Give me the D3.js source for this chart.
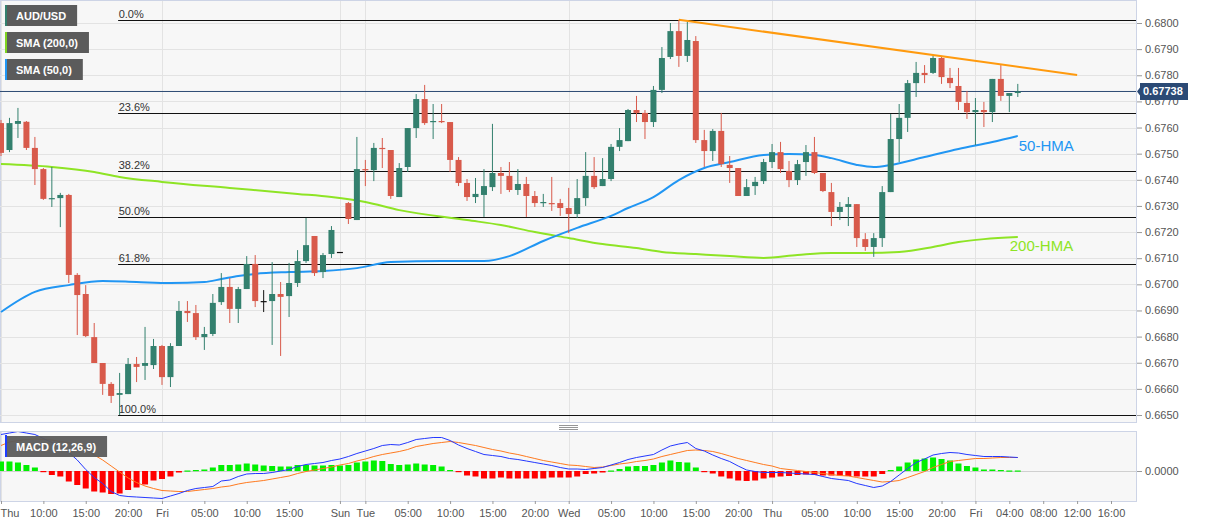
<!DOCTYPE html>
<html><head><meta charset="utf-8">
<script src="https://cdn.jsdelivr.net/npm/d3@7"></script>
<style>
html,body{margin:0;padding:0;background:#fff;}
svg{display:block;font-family:"Liberation Sans",Arial,sans-serif;}
</style></head><body>
<svg id="chart" width="1207" height="526"></svg>
<script>
// ---------------- DATA ----------------
const open = [0.67617,0.67514,0.67614,0.67622,0.67522,0.67441,0.67327,0.67330,0.67342,0.67036,
0.66963,0.66798,0.66699,0.66619,0.66577,0.66580,0.66695,0.66688,0.66691,0.66764,
0.66645,0.66764,0.66898,0.66890,0.66798,0.66810,0.66932,0.66990,0.66906,0.66982,
0.67078,0.66936,0.66936,0.66963,0.66955,0.67005,0.67089,0.67185,0.67047,0.67116,
0.67124,0.67311,0.67246,0.67441,0.67437,0.67522,0.67514,0.67334,0.67449,0.67598,
0.67709,0.67621,0.67625,0.67621,0.67476,0.67388,0.67334,0.67342,0.67372,0.67426,
0.67415,0.67361,0.67384,0.67338,0.67311,0.67311,0.67311,0.67292,0.67269,0.67330,
0.67415,0.67376,0.67403,0.67526,0.67548,0.67667,0.67656,0.67621,0.67744,0.67870,
0.67969,0.67874,0.67931,0.67552,0.67510,0.67587,0.67457,0.67445,0.67338,0.67376,
0.67395,0.67468,0.67506,0.67434,0.67399,0.67468,0.67506,0.67426,0.67353,0.67277,
0.67296,0.67307,0.67173,0.67143,0.67177,0.67353,0.67556,0.67637,0.67770,0.67809,
0.67809,0.67866,0.67790,0.67759,0.67694,0.67659,0.67667,0.67659,0.67786,0.67721,
0.67732];
const high = [0.67629,0.67637,0.67675,0.67625,0.67564,0.67445,0.67449,0.67350,0.67346,0.67043,
0.66997,0.66852,0.66699,0.66626,0.66661,0.66718,0.66722,0.66837,0.66791,0.66768,
0.66775,0.66936,0.66936,0.66921,0.66837,0.66963,0.67043,0.67024,0.66990,0.67108,
0.67112,0.66978,0.67085,0.67009,0.67082,0.67131,0.67254,0.67185,0.67120,0.67223,
0.67124,0.67315,0.67564,0.67476,0.67541,0.67560,0.67514,0.67464,0.67598,0.67728,
0.67763,0.67690,0.67690,0.67621,0.67487,0.67403,0.67407,0.67441,0.67614,0.67449,
0.67468,0.67441,0.67411,0.67357,0.67346,0.67411,0.67327,0.67369,0.67403,0.67506,
0.67487,0.67483,0.67537,0.67598,0.67671,0.67721,0.67667,0.67759,0.67908,0.68000,
0.68012,0.68004,0.67950,0.67591,0.67594,0.67656,0.67491,0.67445,0.67403,0.67411,
0.67480,0.67537,0.67545,0.67472,0.67476,0.67533,0.67564,0.67426,0.67388,0.67315,
0.67334,0.67307,0.67196,0.67196,0.67376,0.67652,0.67690,0.67782,0.67851,0.67839,
0.67874,0.67874,0.67828,0.67828,0.67740,0.67713,0.67698,0.67786,0.67839,0.67732,
0.67767];
const low = [0.67491,0.67506,0.67560,0.67514,0.67380,0.67323,0.67296,0.67219,0.67005,0.66806,
0.66798,0.66699,0.66577,0.66546,0.66500,0.66580,0.66626,0.66634,0.66676,0.66615,
0.66607,0.66764,0.66856,0.66787,0.66749,0.66802,0.66921,0.66852,0.66852,0.66982,
0.66913,0.66894,0.66768,0.66726,0.66875,0.66990,0.67082,0.67032,0.67024,0.67101,
0.67124,0.67231,0.67246,0.67376,0.67395,0.67445,0.67327,0.67334,0.67430,0.67560,
0.67610,0.67556,0.67617,0.67430,0.67376,0.67319,0.67311,0.67258,0.67357,0.67346,
0.67353,0.67342,0.67258,0.67296,0.67296,0.67281,0.67262,0.67196,0.67254,0.67300,
0.67365,0.67376,0.67395,0.67510,0.67548,0.67621,0.67556,0.67602,0.67732,0.67862,
0.67832,0.67851,0.67541,0.67449,0.67472,0.67449,0.67388,0.67338,0.67338,0.67342,
0.67384,0.67445,0.67426,0.67372,0.67380,0.67415,0.67422,0.67353,0.67223,0.67246,
0.67223,0.67143,0.67128,0.67105,0.67143,0.67353,0.67468,0.67583,0.67717,0.67770,
0.67805,0.67767,0.67751,0.67667,0.67633,0.67533,0.67602,0.67621,0.67702,0.67659,
0.67717];
const close = [0.67503,0.67617,0.67625,0.67522,0.67441,0.67327,0.67330,0.67342,0.67036,0.66959,
0.66802,0.66699,0.66619,0.66573,0.66584,0.66695,0.66684,0.66699,0.66764,0.66645,
0.66764,0.66898,0.66890,0.66798,0.66810,0.66929,0.66990,0.66906,0.66982,0.67078,
0.66936,0.66936,0.66963,0.66952,0.67005,0.67089,0.67150,0.67043,0.67112,0.67208,
0.67124,0.67250,0.67441,0.67437,0.67522,0.67518,0.67338,0.67445,0.67598,0.67709,
0.67617,0.67625,0.67621,0.67476,0.67388,0.67334,0.67346,0.67376,0.67426,0.67415,
0.67361,0.67384,0.67338,0.67311,0.67315,0.67307,0.67292,0.67269,0.67330,0.67415,
0.67372,0.67403,0.67526,0.67552,0.67667,0.67656,0.67621,0.67744,0.67866,0.67969,
0.67874,0.67935,0.67552,0.67510,0.67587,0.67460,0.67445,0.67338,0.67372,0.67392,
0.67468,0.67506,0.67441,0.67399,0.67460,0.67506,0.67426,0.67357,0.67277,0.67296,
0.67307,0.67177,0.67143,0.67177,0.67353,0.67556,0.67637,0.67770,0.67809,0.67801,
0.67866,0.67793,0.67770,0.67698,0.67659,0.67667,0.67659,0.67786,0.67721,0.67732,
0.67738];

const hma50Idx = [0,4,8,12,16,20,24,26,28,30,34,38,42,46,52,57,60,64,68,72,74,77,80,83,86,90,93,96,98,101,103,105,109,113,117,120];
const hma50 = [0.66894,0.66971,0.66997,0.67013,0.67009,0.67005,0.67009,0.67020,0.67032,0.67040,
0.67047,0.67051,0.67062,0.67085,0.67089,0.67089,0.67108,0.67166,0.67216,0.67262,
0.67292,0.67334,0.67399,0.67445,0.67468,0.67495,0.67499,0.67495,0.67483,0.67457,
0.67449,0.67457,0.67487,0.67518,0.67545,0.67568];
const hma200Idx = [0,6,11,14,19,27,35,39,43,47,55,59,63,67,71,75,78,82,86,90,94,98,102,106,110,113,116,120];
const hma200 = [0.67460,0.67449,0.67430,0.67411,0.67392,0.67369,0.67346,0.67334,0.67315,0.67284,
0.67246,0.67227,0.67200,0.67177,0.67154,0.67139,0.67124,0.67116,0.67108,0.67101,
0.67112,0.67120,0.67120,0.67124,0.67143,0.67162,0.67173,0.67181];

const trendIdx = [80, 127];
const trendVal = [0.68012, 0.67801];

const fibHigh = 0.68012, fibLow = 0.66500, fibStartIdx = 14;
const fibLevels = [0, 0.236, 0.382, 0.5, 0.618, 1.0];
const fibLabels = ["0.0%","23.6%","38.2%","50.0%","61.8%","100.0%"];

const lastPrice = 0.67738;

const macd = [0.00073,0.00076,0.00079,0.00076,0.00073,0.00065,0.00057,0.00047,0.00037,0.00022,
0.00003,-0.00013,-0.00025,-0.00041,-0.00049,-0.00051,-0.00052,-0.00053,-0.00054,-0.00055,
-0.00050,-0.00045,-0.00039,-0.00035,-0.00033,-0.00031,-0.00020,-0.00018,-0.00011,-0.00006,
-0.00005,-0.00005,-0.00003,0.00000,0.00003,0.00009,0.00013,0.00015,0.00017,0.00021,
0.00024,0.00029,0.00035,0.00040,0.00045,0.00051,0.00053,0.00052,0.00057,0.00063,
0.00065,0.00067,0.00067,0.00061,0.00052,0.00045,0.00039,0.00033,0.00031,0.00029,
0.00025,0.00023,0.00020,0.00017,0.00014,0.00011,0.00007,0.00004,0.00004,0.00003,
0.00005,0.00007,0.00012,0.00017,0.00023,0.00027,0.00030,0.00033,0.00042,0.00050,
0.00054,0.00057,0.00045,0.00040,0.00032,0.00025,0.00019,0.00010,0.00002,-0.00001,
-0.00003,-0.00003,-0.00003,-0.00004,-0.00005,-0.00006,-0.00007,-0.00011,-0.00015,-0.00017,
-0.00019,-0.00025,-0.00029,-0.00033,-0.00030,-0.00021,-0.00008,0.00005,0.00017,0.00024,
0.00032,0.00035,0.00037,0.00036,0.00033,0.00031,0.00029,0.00029,0.00029,0.00028,
0.00027];
const signal = [0.00051,0.00058,0.00061,0.00063,0.00064,0.00063,0.00062,0.00059,0.00057,0.00051,
0.00043,0.00032,0.00022,0.00010,-0.00002,-0.00014,-0.00023,-0.00030,-0.00035,-0.00039,
-0.00040,-0.00041,-0.00041,-0.00039,-0.00037,-0.00035,-0.00032,-0.00030,-0.00026,-0.00023,
-0.00021,-0.00019,-0.00016,-0.00013,-0.00010,-0.00005,-0.00001,0.00002,0.00005,0.00008,
0.00012,0.00015,0.00020,0.00024,0.00029,0.00033,0.00036,0.00039,0.00043,0.00049,
0.00052,0.00055,0.00057,0.00059,0.00057,0.00054,0.00051,0.00047,0.00043,0.00040,
0.00036,0.00033,0.00029,0.00025,0.00021,0.00018,0.00015,0.00012,0.00011,0.00009,
0.00007,0.00008,0.00011,0.00014,0.00016,0.00019,0.00021,0.00024,0.00029,0.00033,
0.00037,0.00041,0.00042,0.00041,0.00039,0.00035,0.00030,0.00025,0.00021,0.00017,
0.00013,0.00010,0.00005,0.00003,0.00001,-0.00001,-0.00003,-0.00005,-0.00007,-0.00009,
-0.00010,-0.00013,-0.00016,-0.00019,-0.00022,-0.00021,-0.00019,-0.00013,-0.00007,-0.00001,
0.00007,0.00013,0.00019,0.00021,0.00023,0.00025,0.00025,0.00026,0.00027,0.00027,
0.00027];
const hist = [0.00019,0.00019,0.00017,0.00012,0.00007,-0.00002,-0.00008,-0.00011,-0.00021,-0.00028,
-0.00035,-0.00041,-0.00043,-0.00046,-0.00045,-0.00038,-0.00033,-0.00027,-0.00019,-0.00016,
-0.00011,-0.00003,0.00001,0.00002,0.00003,0.00007,0.00012,0.00012,0.00013,0.00015,
0.00013,0.00011,0.00010,0.00009,0.00009,0.00012,0.00012,0.00011,0.00011,0.00012,
0.00011,0.00012,0.00017,0.00019,0.00021,0.00020,0.00014,0.00012,0.00013,0.00015,
0.00013,0.00012,0.00009,0.00002,-0.00001,-0.00009,-0.00011,-0.00015,-0.00015,-0.00013,
-0.00015,-0.00015,-0.00015,-0.00015,-0.00015,-0.00013,-0.00013,-0.00013,-0.00011,-0.00006,
-0.00005,-0.00003,0.00001,0.00004,0.00009,0.00010,0.00010,0.00012,0.00017,0.00021,
0.00018,0.00017,0.00007,-0.00001,-0.00005,-0.00011,-0.00015,-0.00019,-0.00020,-0.00019,
-0.00015,-0.00013,-0.00011,-0.00010,-0.00008,-0.00007,-0.00008,-0.00009,-0.00009,-0.00009,
-0.00010,-0.00011,-0.00011,-0.00011,-0.00006,0.00002,0.00009,0.00017,0.00023,0.00025,
0.00027,0.00024,0.00021,0.00015,0.00010,0.00007,0.00003,0.00003,0.00002,0.00001,
0.00001];

const xTickIdx = [0,5,10,15,19,24,29,34,40,43,48,53,58,63,67,72,77,82,87,91,96,101,106,111,115,119,123,127,131];
const xTickLab = ["Thu","10:00","15:00","20:00","Fri","05:00","10:00","15:00","Sun","Tue","05:00","10:00","15:00","20:00","Wed","05:00","10:00","15:00","20:00","Thu","05:00","10:00","15:00","20:00","Fri","04:00","08:00","12:00","16:00"];
const dayIdx = [0,19,40,43,67,91,115];
const priceTicks = [0.6650,0.6660,0.6670,0.6680,0.6690,0.6700,0.6710,0.6720,0.6730,0.6740,0.6750,0.6760,0.6770,0.6780,0.6790,0.6800];
const legendItems = ["AUD/USD","SMA (200,0)","SMA (50,0)"];

// ---------------- LAYOUT ----------------
const PR = 1136, mainT = 1, mainB = 422, macdT = 432, macdB = 501;
const C_UP = "#33806e", C_DN = "#d85a4b";
const GRID = "#e3e3e3", BORDER = "#cdd4e6";

const x = d3.scaleLinear().domain([0, 131]).range([1, 1111]);
const y = d3.scaleLinear().domain([0.6650, 0.6800]).range([415, 23]);
const ym = d3.scaleLinear().domain([-0.0006, 0.0006]).range([501, 441]);

const svg = d3.select("#chart");
const defs = svg.append("defs");
defs.append("clipPath").attr("id","clipMain").append("rect").attr("x",0).attr("y",mainT).attr("width",PR).attr("height",mainB-mainT);
defs.append("clipPath").attr("id","clipMacd").append("rect").attr("x",0).attr("y",macdT).attr("width",PR).attr("height",macdB-macdT);

// ---- main panel ----
svg.append("rect").attr("x",0.5).attr("y",mainT-0.5).attr("width",PR).attr("height",mainB-mainT+1)
  .attr("fill","#f7f7f7").attr("stroke",BORDER);
const gMain = svg.append("g").attr("clip-path","url(#clipMain)");
gMain.selectAll("line.hg").data(priceTicks).join("line").attr("class","hg")
  .attr("x1",0).attr("x2",PR).attr("y1",d=>Math.round(y(d))+0.5).attr("y2",d=>Math.round(y(d))+0.5)
  .attr("stroke",GRID);
gMain.selectAll("line.vg").data(dayIdx).join("line").attr("class","vg")
  .attr("x1",d=>Math.round(x(d))+0.5).attr("x2",d=>Math.round(x(d))+0.5).attr("y1",mainT).attr("y2",mainB)
  .attr("stroke",GRID);

// fib lines
const fibVal = fibLevels.map(l => fibHigh - l*(fibHigh-fibLow));
gMain.selectAll("line.fib").data(fibVal).join("line").attr("class","fib")
  .attr("x1",x(fibStartIdx)-1.5).attr("x2",PR).attr("y1",d=>Math.round(y(d))+0.5).attr("y2",d=>Math.round(y(d))+0.5)
  .attr("stroke","#111").attr("stroke-width",1.1);
gMain.selectAll("text.fib").data(fibVal).join("text").attr("class","fib")
  .attr("x",x(fibStartIdx)-1).attr("y",d=>Math.round(y(d))-2)
  .attr("font-size",11).attr("fill","#333").text((d,i)=>fibLabels[i]);

// last price line
gMain.append("line").attr("x1",0).attr("x2",PR).attr("y1",y(lastPrice)).attr("y2",y(lastPrice))
  .attr("stroke","#2c4a73").attr("stroke-width",1);

// HMA lines
const lineGen = d3.line().x(d=>x(d[0])).y(d=>y(d[1])).curve(d3.curveMonotoneX);
gMain.append("path").datum(hma200Idx.map((d,i)=>[d,hma200[i]])).attr("d",lineGen)
  .attr("fill","none").attr("stroke","#8ee425").attr("stroke-width",2);
gMain.append("path").datum(hma50Idx.map((d,i)=>[d,hma50[i]])).attr("d",lineGen)
  .attr("fill","none").attr("stroke","#2196f3").attr("stroke-width",2);

// candles
const idx = d3.range(open.length);
const colorOf = i => close[i] > open[i] ? C_UP : (close[i] < open[i] ? C_DN : "#111");
gMain.selectAll("line.wick").data(idx).join("line").attr("class","wick")
  .attr("x1",i=>x(i)).attr("x2",i=>x(i)).attr("y1",i=>y(high[i])).attr("y2",i=>y(low[i]))
  .attr("stroke",colorOf).attr("stroke-width",1);
gMain.selectAll("rect.body").data(idx).join("rect").attr("class","body")
  .attr("x",i=>x(i)-3).attr("width",6)
  .attr("y",i=>y(Math.max(open[i],close[i])))
  .attr("height",i=>Math.max(1.2, y(Math.min(open[i],close[i])) - y(Math.max(open[i],close[i]))))
  .attr("fill",colorOf);

// trend line
gMain.append("line").attr("x1",x(trendIdx[0])).attr("y1",y(trendVal[0]))
  .attr("x2",x(trendIdx[1])).attr("y2",y(trendVal[1]))
  .attr("stroke","#ff9a0e").attr("stroke-width",2);

// HMA labels
svg.append("text").attr("x",x(hma50Idx[hma50Idx.length-1])+1).attr("y",y(hma50[hma50.length-1])+15)
  .attr("font-size",15).attr("fill","#2196f3").text("50-HMA");
svg.append("text").attr("x",x(hma200Idx[hma200Idx.length-1])-8).attr("y",y(hma200[hma200.length-1])+14)
  .attr("font-size",15).attr("fill","#8ee425").text("200-HMA");

// legend
const legColors = [C_UP, "#7ed321", "#2196f3"];
legendItems.forEach((t,i)=>{
  const g = svg.append("g").attr("transform",`translate(5,${5+i*27})`);
  const r = g.append("rect").attr("x",0).attr("y",0).attr("height",21).attr("fill","#5b5b5b");
  g.append("rect").attr("x",0).attr("y",0).attr("width",2).attr("height",21).attr("fill",legColors[i]);
  const tx = g.append("text").attr("x",11).attr("y",15).attr("font-size",11).attr("font-weight","bold")
    .attr("fill","#fff").text(t);
  r.attr("width", tx.node().getComputedTextLength()+22);
});

// right price axis
const yAxis = d3.axisRight(y).tickValues(priceTicks).tickFormat(d3.format(".4f")).tickSize(5).tickPadding(3);
const gy = svg.append("g").attr("transform",`translate(${PR+1},0)`).call(yAxis);
gy.select(".domain").remove();
gy.selectAll("line").attr("stroke","#999");
gy.selectAll("text").attr("font-size",11).attr("fill","#555").attr("font-family","Liberation Sans, Arial, sans-serif");

// last price label
const ly = y(lastPrice);
svg.append("path").attr("d",`M${PR+1},${ly} L${PR+4},${ly-4} L${PR+4},${ly-8.5} L${PR+52},${ly-8.5} L${PR+52},${ly+8.5} L${PR+4},${ly+8.5} L${PR+4},${ly+4} Z`)
  .attr("fill","#2b4a75");
svg.append("text").attr("x",PR+7).attr("y",ly+4).attr("font-size",11).attr("font-weight","bold")
  .attr("fill","#fff").text(lastPrice.toFixed(5));

// separator handle
[425.5,427.5,429.5].forEach(v=>{
  svg.append("line").attr("x1",559).attr("x2",578).attr("y1",v).attr("y2",v).attr("stroke","#8a8a8a").attr("stroke-width",0.9);
});

// ---- MACD panel ----
svg.append("rect").attr("x",0.5).attr("y",macdT-0.5).attr("width",PR).attr("height",macdB-macdT+1)
  .attr("fill","#f7f7f7").attr("stroke",BORDER);
const gM = svg.append("g").attr("clip-path","url(#clipMacd)");
gM.selectAll("line.vg").data(dayIdx).join("line").attr("class","vg")
  .attr("x1",d=>Math.round(x(d))+0.5).attr("x2",d=>Math.round(x(d))+0.5).attr("y1",macdT).attr("y2",macdB)
  .attr("stroke",GRID);
gM.append("line").attr("x1",0).attr("x2",PR).attr("y1",Math.round(ym(0))+0.5).attr("y2",Math.round(ym(0))+0.5)
  .attr("stroke","#d0d0d0");
gM.selectAll("rect.h").data(idx).join("rect").attr("class","h")
  .attr("x",i=>x(i)-3).attr("width",6)
  .attr("y",i=>hist[i]>=0 ? ym(hist[i]) : ym(0))
  .attr("height",i=>Math.max(1.2, Math.abs(ym(hist[i])-ym(0))))
  .attr("fill",i=>hist[i]>=0 ? "#00f000" : "#ff0000");
const mLine = d3.line().x((d,i)=>x(i)).y(d=>ym(d));
gM.append("path").datum(signal).attr("d",mLine).attr("fill","none").attr("stroke","#ff7a1f").attr("stroke-width",1);
gM.append("path").datum(macd).attr("d",mLine).attr("fill","none").attr("stroke","#2438ff").attr("stroke-width",1);

// MACD legend
{
  const g = svg.append("g").attr("transform",`translate(5,436)`);
  const r = g.append("rect").attr("x",0).attr("y",0).attr("height",21).attr("fill","#5b5b5b").attr("opacity",0.95);
  g.append("rect").attr("x",0).attr("y",-1).attr("width",2).attr("height",22).attr("fill","#1d3cff");
  const tx = g.append("text").attr("x",11).attr("y",15).attr("font-size",11).attr("font-weight","bold")
    .attr("fill","#fff").text("MACD (12,26,9)");
  r.attr("width", tx.node().getComputedTextLength()+22);
}

// MACD right axis
const gym = svg.append("g").attr("transform",`translate(${PR+1},0)`)
  .call(d3.axisRight(ym).tickValues([0]).tickFormat(d3.format(".4f")).tickSize(5).tickPadding(3));
gym.select(".domain").remove();
gym.selectAll("line").attr("stroke","#999");
gym.selectAll("text").attr("font-size",11).attr("fill","#555").attr("font-family","Liberation Sans, Arial, sans-serif");

// bottom time axis
const xAxis = d3.axisBottom(x).tickValues(xTickIdx).tickFormat((d,i)=>xTickLab[i]).tickSize(3).tickPadding(5);
const gx = svg.append("g").attr("transform",`translate(0,${macdB})`).call(xAxis);
gx.select(".domain").remove();
gx.selectAll("line").attr("stroke","#999");
gx.selectAll("text").attr("font-size",11).attr("fill","#555").attr("font-family","Liberation Sans, Arial, sans-serif");
gx.select(".tick text").attr("text-anchor","start").attr("x",-1);
</script>
</body></html>
